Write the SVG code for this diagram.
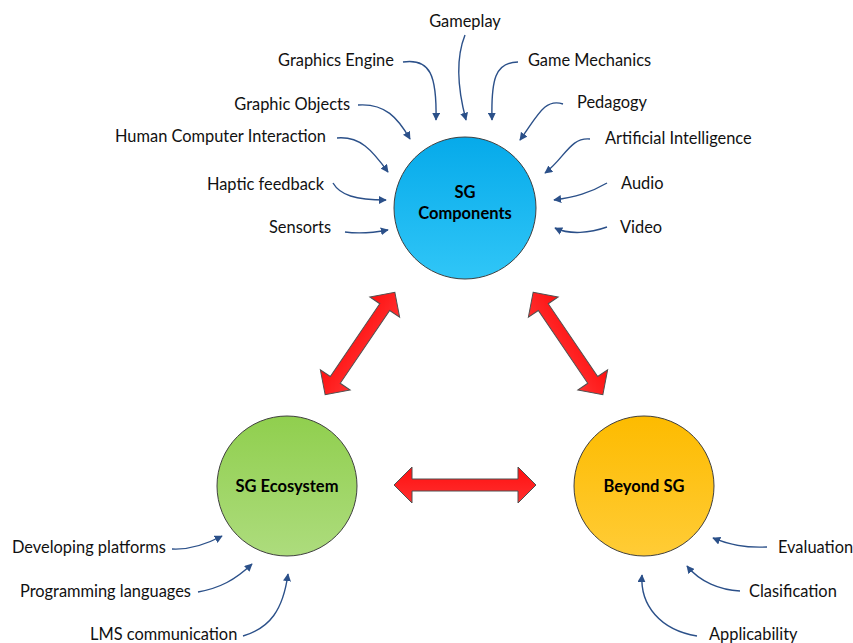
<svg xmlns="http://www.w3.org/2000/svg" width="853" height="643" viewBox="0 0 853 643">
<style>
.lbl{font-family:Lato,"Liberation Sans",sans-serif;font-size:16.4px;fill:#111}
.title{font-family:Lato,"Liberation Sans",sans-serif;font-size:16.5px;font-weight:bold;fill:#000;text-anchor:middle}
.con{fill:none;stroke:#2b5089;stroke-width:1.4;marker-end:url(#ah)}
.circ{stroke:#404040;stroke-width:1}
.big{fill:url(#gRed);stroke:#505050;stroke-width:1}
</style>
<defs>
<marker id="ah" viewBox="0 0 10 10" refX="9" refY="5" markerWidth="8" markerHeight="8" markerUnits="userSpaceOnUse" orient="auto">
<path d="M0 0 L10 5 L0 10 Z" fill="#2b5089"/>
</marker>
<linearGradient id="gBlue" x1="0" y1="0" x2="0" y2="1"><stop offset="0" stop-color="#06aaea"/><stop offset="1" stop-color="#30c6f7"/></linearGradient>
<linearGradient id="gGreen" x1="0" y1="0" x2="0" y2="1"><stop offset="0" stop-color="#90cf4e"/><stop offset="1" stop-color="#addc7d"/></linearGradient>
<linearGradient id="gOrange" x1="0" y1="0" x2="0" y2="1"><stop offset="0" stop-color="#fdbb00"/><stop offset="1" stop-color="#ffcc36"/></linearGradient>
<linearGradient id="gRed" x1="0" y1="0" x2="0" y2="1"><stop offset="0" stop-color="#ff1010"/><stop offset="1" stop-color="#ff3030"/></linearGradient>
<path id="dbl" d="M-71 0 L-53 -18 L-53 -6 L53 -6 L53 -18 L71 0 L53 18 L53 6 L-53 6 L-53 18 Z"/>
<path id="dblD" d="M-62 0 L-44 -18 L-44 -6 L44 -6 L44 -18 L62 0 L44 18 L44 6 L-44 6 L-44 18 Z"/>
</defs>

<g id="connectors">
<path class="con" d="M465 35 C455 60 458 90 466 120"/>
<path class="con" d="M403 62 C430 58 437 75 436 120"/>
<path class="con" d="M518 62 C495 62 491 80 492 120"/>
<path class="con" d="M563 104 C545 98 538 115 520 140"/>
<path class="con" d="M358 105 C385 103 398 118 410 139"/>
<path class="con" d="M337 138 C360 136 372 150 388 172"/>
<path class="con" d="M333 183 C340 195 355 200 386 200"/>
<path class="con" d="M345 232 C360 234 372 233 388 230"/>
<path class="con" d="M590 139 C570 137 565 158 545 173"/>
<path class="con" d="M607 183 C590 193 575 197 554 200"/>
<path class="con" d="M607 227 C590 233 570 235 555 228"/>
<path class="con" d="M172 549 C190 550 205 545 222 536"/>
<path class="con" d="M198 592 C220 588 235 580 252 564"/>
<path class="con" d="M243 636 C270 628 283 610 288 574"/>
<path class="con" d="M767 547 C745 548 730 545 713 538"/>
<path class="con" d="M740 591 C720 590 700 582 687 566"/>
<path class="con" d="M697 636 C660 630 640 605 642 575"/>
<use href="#dblD" class="big" transform="translate(360 343.5) rotate(-55.8)"/>
<use href="#dblD" class="big" transform="translate(568 343.5) rotate(55.8)"/>
<use href="#dbl" class="big" transform="translate(465 485)"/>
</g>

<g id="sg-components">
<circle class="circ" cx="465" cy="208" r="71" fill="url(#gBlue)"/>
<text class="title" x="465" y="198">SG</text>
<text class="title" x="465" y="219">Components</text>
</g>
<g id="sg-ecosystem">
<circle class="circ" cx="287" cy="486" r="70" fill="url(#gGreen)"/>
<text class="title" x="287" y="492">SG Ecosystem</text>
</g>
<g id="beyond-sg">
<circle class="circ" cx="644" cy="486" r="70" fill="url(#gOrange)"/>
<text class="title" x="644" y="492">Beyond SG</text>
</g>

<g id="labels">
<text class="lbl" x="465" y="27" text-anchor="middle">Gameplay</text>
<text class="lbl" x="336" y="66" text-anchor="middle">Graphics Engine</text>
<text class="lbl" x="589.5" y="66" text-anchor="middle">Game Mechanics</text>
<text class="lbl" x="350" y="110" text-anchor="end">Graphic Objects</text>
<text class="lbl" x="577" y="108">Pedagogy</text>
<text class="lbl" x="326" y="142" text-anchor="end">Human Computer Interaction</text>
<text class="lbl" x="605" y="144">Artificial Intelligence</text>
<text class="lbl" x="324" y="190" text-anchor="end">Haptic feedback</text>
<text class="lbl" x="621" y="189">Audio</text>
<text class="lbl" x="331" y="233" text-anchor="end">Sensorts</text>
<text class="lbl" x="620" y="233">Video</text>
<text class="lbl" x="12" y="553">Developing platforms</text>
<text class="lbl" x="20" y="597">Programming languages</text>
<text class="lbl" x="90" y="640">LMS communication</text>
<text class="lbl" x="778" y="553">Evaluation</text>
<text class="lbl" x="749" y="597">Clasification</text>
<text class="lbl" x="709" y="640">Applicability</text>
</g>
</svg>
